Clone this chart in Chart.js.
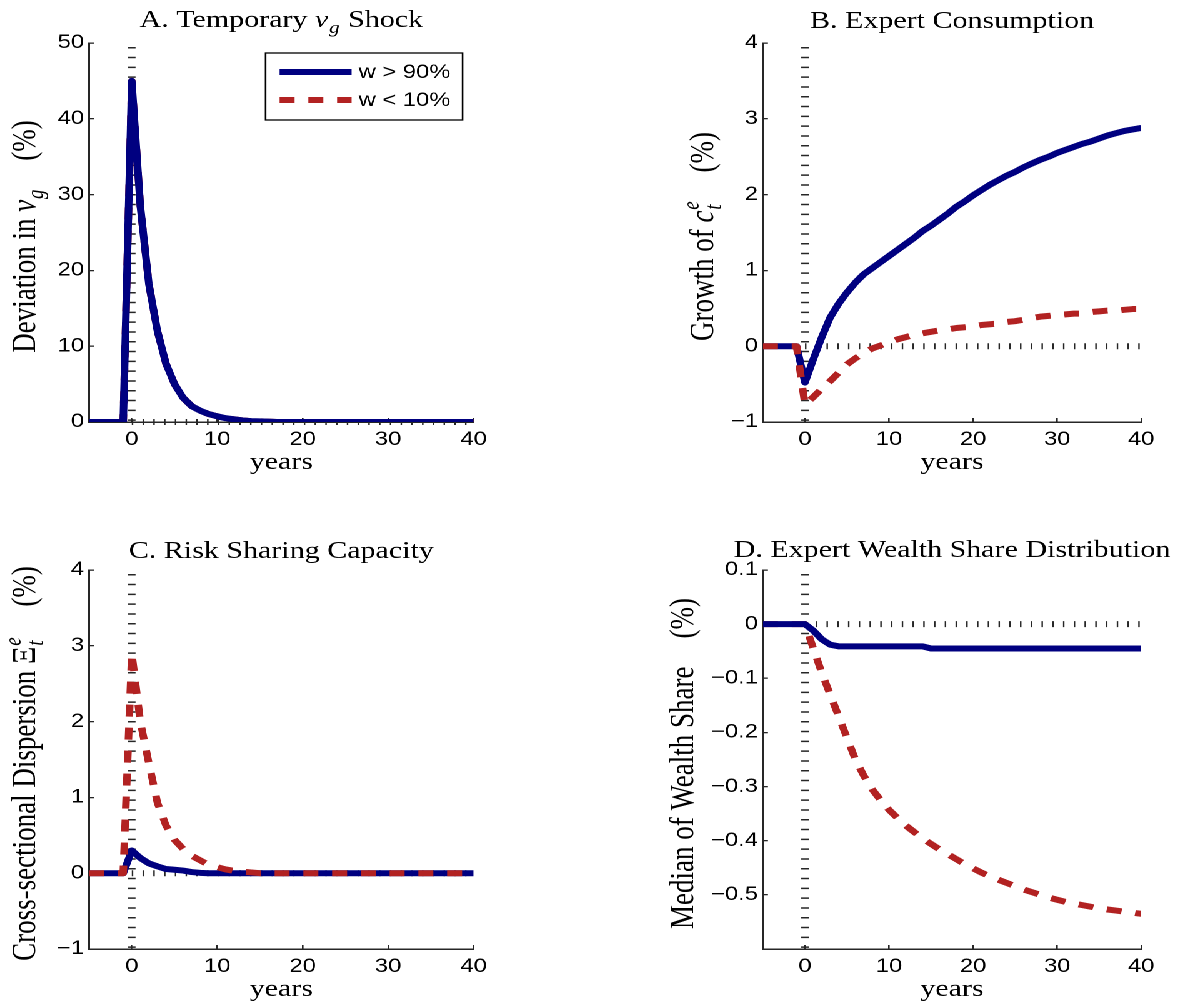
<!DOCTYPE html>
<html>
<head>
<meta charset="utf-8">
<script src="https://cdn.jsdelivr.net/npm/chart.js@4.4.1/dist/chart.umd.min.js"></script>
<style>
  html, body { margin: 0; background: #fff; }
  /* the figure is drawn a bit narrow and stretched sideways, like the source image */
  #fig { position: absolute; left: 0; top: 0; width: 953.6px; height: 1007px;
         transform: scaleX(1.25); transform-origin: 0 0; }
  #fig canvas { position: absolute; }
</style>
</head>
<body>
<div id="fig">
  <canvas id="pA" width="400" height="477" style="left:0px;top:0px"></canvas>
  <canvas id="pB" width="418.6" height="477" style="left:530px;top:0px"></canvas>
  <canvas id="pC" width="400" height="504" style="left:0px;top:500px"></canvas>
  <canvas id="pD" width="418.6" height="504" style="left:530px;top:500px"></canvas>
</div>
<script>
// ---- data ----
const years = [-5, -4, -3, -2, -1, 0, 1, 2, 3, 4, 5, 6, 7, 8, 9, 10, 11, 12, 13, 14, 15,
  16, 17, 18, 19, 20, 21, 22, 23, 24, 25, 26, 27, 28, 29, 30, 31, 32, 33, 34, 35, 36, 37, 38, 39, 40];
const xTicks = [0, 10, 20, 30, 40];
const seriesNames = ['w > 90%', 'w < 10%'];

// A. temporary nu_g shock
const nuHi = [0, 0, 0, 0, 0, 45, 28.5, 18.2, 12, 7.7, 5, 3.2, 2.1, 1.5, 1.05, 0.75, 0.5, 0.35, 0.2, 0.12,
  0.08, 0.05, 0, 0, 0, 0, 0, 0, 0, 0, 0, 0, 0, 0, 0, 0, 0, 0, 0, 0, 0, 0, 0, 0, 0, 0];
const nuLo = [0, 0, 0, 0, 0, 45, 28.5, 18.2, 12, 7.7, 5, 3.2, 2.1, 1.5, 1.05, 0.75, 0.5, 0.35, 0.2, 0.12,
  0.08, 0.05, 0, 0, 0, 0, 0, 0, 0, 0, 0, 0, 0, 0, 0, 0, 0, 0, 0, 0, 0, 0, 0, 0, 0, 0];
const nuTicks = [0, 10, 20, 30, 40, 50];

// B. expert consumption growth
const consHi = [0, 0, 0, 0, 0, -0.48, -0.17, 0.12, 0.38, 0.56, 0.71, 0.84, 0.95, 1.03, 1.11,
  1.19, 1.27, 1.35, 1.43, 1.52, 1.59, 1.67, 1.75, 1.84, 1.91, 1.99, 2.06, 2.13, 2.19, 2.25,
  2.3, 2.36, 2.41, 2.46, 2.5, 2.55, 2.59, 2.63, 2.67, 2.7, 2.74, 2.78, 2.81, 2.84, 2.86, 2.88];
const consLo = [0, 0, 0, 0, 0, -0.77, -0.67, -0.56, -0.46, -0.35, -0.24, -0.16, -0.09, -0.03, 0.01,
  0.05, 0.09, 0.12, 0.15, 0.17, 0.19, 0.21, 0.22, 0.24, 0.25, 0.26, 0.28, 0.29, 0.3, 0.32,
  0.33, 0.35, 0.37, 0.39, 0.4, 0.41, 0.42, 0.43, 0.43, 0.45, 0.46, 0.47, 0.47, 0.48, 0.49, 0.49];
const consTicks = [-1, 0, 1, 2, 3, 4];

// C. risk sharing capacity
const dispHi = [0, 0, 0, 0, 0, 0.3, 0.2, 0.13, 0.09, 0.055, 0.045, 0.035, 0.015, 0.005, 0,
  0, 0, 0, 0, 0, 0, 0, 0, 0, 0, 0, 0, 0, 0, 0, 0, 0, 0, 0, 0, 0, 0, 0, 0, 0, 0, 0, 0, 0, 0, 0];
const dispLo = [0, 0, 0, 0, 0, 2.9, 2.0, 1.45, 0.93, 0.63, 0.44, 0.32, 0.23, 0.17, 0.11,
  0.08, 0.05, 0.03, 0.02, 0.01, 0, 0, 0, 0, 0, 0, 0, 0, 0, 0, 0, 0, 0, 0, 0, 0, 0, 0, 0, 0, 0, 0, 0, 0, 0, 0];
const dispTicks = [-1, 0, 1, 2, 3, 4];

// D. expert wealth share distribution
const shareHi = [0, 0, 0, 0, 0, 0, -0.012, -0.028, -0.038, -0.041, -0.041, -0.041, -0.041, -0.041, -0.041,
  -0.041, -0.041, -0.041, -0.041, -0.041, -0.045, -0.045, -0.045, -0.045, -0.045, -0.045, -0.045, -0.045,
  -0.045, -0.045, -0.045, -0.045, -0.045, -0.045, -0.045, -0.045, -0.045, -0.045, -0.045, -0.045, -0.045,
  -0.045, -0.045, -0.045, -0.045, -0.045];
const shareLo = [0, 0, 0, 0, 0, 0, -0.045, -0.09, -0.13, -0.17, -0.21, -0.25, -0.28, -0.305, -0.325,
  -0.343, -0.358, -0.372, -0.384, -0.396, -0.406, -0.416, -0.425, -0.434, -0.443, -0.451, -0.459, -0.466,
  -0.472, -0.478, -0.484, -0.49, -0.495, -0.5, -0.505, -0.509, -0.513, -0.516, -0.519, -0.522, -0.525,
  -0.527, -0.529, -0.531, -0.533, -0.535];
const shareTicks = [-0.5, -0.4, -0.3, -0.2, -0.1, 0, 0.1];

// ---- style ----
const SERIF = "'Liberation Serif', 'Times New Roman', serif";
const SANS = "'Liberation Sans', Arial, Helvetica, sans-serif";
const AX = '#262626';
const BLUE = '#000080';
const RED = '#b22222';

const fmtTick = v => (v < 0 ? '\u2212' : '') + String(Math.abs(v));

// rich text: strings, {t, it}, {sub, sup, it}, {gap}
function richFont(it, size) {
  return (it ? 'italic ' : '') + size + 'px ' + SERIF;
}
function richWidth(ctx, p, size) {
  if (p.gap) return p.gap;
  if (p.t != null) { ctx.font = richFont(p.it, size); return ctx.measureText(p.t).width; }
  ctx.font = richFont(p.it, size * 0.7);
  const a = p.sub ? ctx.measureText(p.sub).width : 0;
  const b = p.sup ? ctx.measureText(p.sup).width : 0;
  return Math.max(a, b) + size * 0.06;
}
function drawRich(ctx, segs, size) {
  const parts = segs.map(s => typeof s === 'string' ? { t: s } : s);
  const widths = parts.map(p => richWidth(ctx, p, size));
  let x = -widths.reduce((s, w) => s + w, 0) / 2;
  ctx.fillStyle = '#000';
  ctx.textAlign = 'left';
  ctx.textBaseline = 'alphabetic';
  parts.forEach((p, i) => {
    if (p.t != null) {
      ctx.font = richFont(p.it, size);
      ctx.fillText(p.t, x, 0);
    } else if (!p.gap) {
      ctx.font = richFont(p.it, size * 0.7);
      if (p.sub) ctx.fillText(p.sub, x + size * 0.03, size * 0.24);
      if (p.sup) ctx.fillText(p.sup, x + size * 0.03, -size * 0.42);
    }
    x += widths[i];
  });
}

function drawLegend(chart) {
  const { ctx, chartArea: a } = chart;
  const w = 157.6, h = 67;
  const L = a.right - 8.8 - w, T = a.top + 10;
  ctx.save();
  ctx.fillStyle = '#fff';
  ctx.fillRect(L, T, w, h);
  ctx.strokeStyle = '#000';
  ctx.lineWidth = 1.3;
  ctx.strokeRect(L, T, w, h);
  chart.data.datasets.forEach((ds, i) => {
    const y = T + 19 + i * 28;
    ctx.strokeStyle = ds.borderColor;
    ctx.lineWidth = ds.borderWidth;
    ctx.setLineDash(ds.borderDash || []);
    ctx.beginPath();
    ctx.moveTo(L + 11.2, y);
    ctx.lineTo(L + 68.8, y);
    ctx.stroke();
    ctx.setLineDash([]);
    ctx.fillStyle = '#000';
    ctx.font = '19px ' + SANS;
    ctx.textAlign = 'left';
    ctx.textBaseline = 'middle';
    ctx.fillText(ds.label, L + 74.4, y + 1);
  });
  ctx.restore();
}

// dotted guides at x = 0 and y = 0, panel titles, y labels, legend
const figDecor = {
  id: 'figDecor',
  beforeDatasetsDraw(chart) {
    const { ctx, chartArea: a, scales: { x, y } } = chart;
    const x0 = x.getPixelForValue(0), y0 = y.getPixelForValue(0);
    ctx.save();
    ctx.strokeStyle = AX;
    ctx.lineCap = 'butt';
    ctx.lineWidth = 6;
    ctx.setLineDash([1.5, 8.3]);
    ctx.beginPath();
    ctx.moveTo(x0, a.top + 4);
    ctx.lineTo(x0, a.bottom);
    ctx.stroke();
    ctx.lineWidth = 6;
    ctx.setLineDash([1.2, 7.4]);
    ctx.beginPath();
    ctx.moveTo(x0, y0);
    ctx.lineTo(x.getPixelForValue(x.max), y0);
    ctx.stroke();
    ctx.restore();
  },
  afterDraw(chart, args, o) {
    const { ctx, chartArea: a } = chart;
    ctx.save();
    ctx.translate((a.left + a.right) / 2, a.top + o.titleOff);
    drawRich(ctx, o.title, 24);
    ctx.restore();
    ctx.save();
    ctx.translate(a.left + o.yBase, (a.top + a.bottom) / 2 + 4);
    ctx.rotate(-Math.PI / 2);
    drawRich(ctx, o.ylabel, 27);
    ctx.restore();
    if (o.legend) drawLegend(chart);
  }
};

function makePanel(id, p) {
  const pts = vals => years.map((t, i) => ({ x: t, y: vals[i] }));
  return new Chart(document.getElementById(id), {
    type: 'line',
    data: {
      datasets: [{
        label: seriesNames[0],
        data: pts(p.hi),
        borderColor: BLUE,
        borderWidth: 6,
        order: p.blueTop ? 0 : 1,
      }, {
        label: seriesNames[1],
        data: pts(p.lo),
        borderColor: RED,
        borderWidth: 6,
        borderDash: [12, 11],
        order: p.blueTop ? 1 : 0,
      }],
    },
    options: {
      responsive: false,
      animation: false,
      devicePixelRatio: 2,
      layout: { padding: p.pad },
      elements: {
        point: { radius: 0 },
        line: { tension: 0, fill: false, borderJoinStyle: 'round', borderCapStyle: 'butt' },
      },
      plugins: {
        legend: { display: false },
        tooltip: { enabled: false },
        figDecor: { title: p.title, ylabel: p.ylabel, yBase: p.yBase, titleOff: p.titleOff, legend: p.legend },
      },
      scales: {
        x: {
          type: 'linear',
          min: -5,
          max: 40,
          afterBuildTicks: s => { s.ticks = xTicks.map(v => ({ value: v })); },
          afterFit: s => { s.height = 55; },
          grid: { drawOnChartArea: false, drawTicks: true, tickLength: -4, color: AX, lineWidth: 1.3 },
          border: { display: true, color: AX, width: 1.5 },
          ticks: { autoSkip: false, maxRotation: 0, padding: 10.6, color: '#000',
                   font: { family: SANS, size: 19 }, callback: v => fmtTick(v) },
          title: { display: true, text: 'years', color: '#000', padding: { top: 0, bottom: 0 },
                   font: { family: SERIF, size: 24, lineHeight: 1.2 } },
        },
        y: {
          type: 'linear',
          min: p.yMin,
          max: p.yMax,
          afterBuildTicks: s => { s.ticks = p.yTicks.map(v => ({ value: v })); },
          afterFit: s => { s.width = 55; },
          grid: { drawOnChartArea: false, drawTicks: true, tickLength: -4, color: AX, lineWidth: 1.3 },
          border: { display: true, color: AX, width: 1.5 },
          ticks: { autoSkip: false, padding: 8, color: '#000',
                   font: { family: SANS, size: 19 }, callback: v => fmtTick(v) },
        },
      },
    },
    plugins: [figDecor],
  });
}

makePanel('pA', {
  hi: nuHi, lo: nuLo, yMin: 0, yMax: 50, yTicks: nuTicks, blueTop: true, legend: true,
  pad: { left: 16.2, top: 43, right: 20, bottom: 0 }, yBase: -43.2, titleOff: -16,
  title: ['A. Temporary ', { t: '\u03bd', it: true }, { sub: 'g', it: true }, ' Shock'],
  ylabel: ['Deviation in ', { t: '\u03bd', it: true }, { sub: 'g', it: true }, { gap: 28 }, '(%)'],
});
makePanel('pB', {
  hi: consHi, lo: consLo, yMin: -1, yMax: 4, yTicks: consTicks, blueTop: false,
  pad: { left: 25.4, top: 43, right: 35, bottom: 0 }, yBase: -40, titleOff: -15,
  title: ['B. Expert Consumption'],
  ylabel: ['Growth of ', { t: 'c', it: true }, { sub: 't', sup: 'e', it: true }, { gap: 28 }, '(%)'],
});
makePanel('pC', {
  hi: dispHi, lo: dispLo, yMin: -1, yMax: 4, yTicks: dispTicks, blueTop: false,
  pad: { left: 16.2, top: 70, right: 20, bottom: 0 }, yBase: -43.2, titleOff: -12,
  title: ['C. Risk Sharing Capacity'],
  ylabel: ['Cross-sectional Dispersion ', { t: '\u039e' }, { sub: 't', sup: 'e', it: true }, { gap: 30 }, '(%)'],
});
makePanel('pD', {
  hi: shareHi, lo: shareLo, yMin: -0.6, yMax: 0.1, yTicks: shareTicks, blueTop: true,
  pad: { left: 25.4, top: 70, right: 35, bottom: 0 }, yBase: -56, titleOff: -13,
  title: ['D. Expert Wealth Share Distribution'],
  ylabel: ['Median of Wealth Share', { gap: 28 }, '(%)'],
});
</script>
</body>
</html>
